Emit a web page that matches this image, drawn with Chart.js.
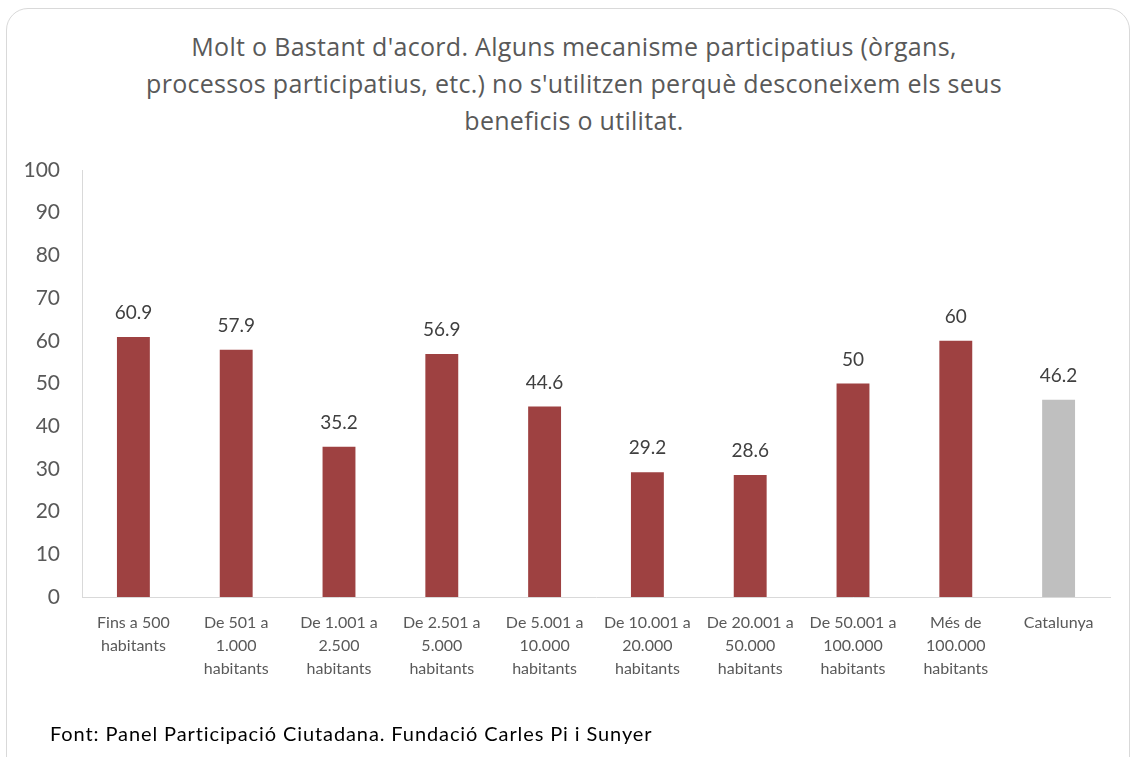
<!DOCTYPE html>
<html>
<head>
<meta charset="utf-8">
<script src="https://cdn.jsdelivr.net/npm/chart.js@4"></script>
<style>
  html, body { margin: 0; padding: 0; background: #fff; }
  body { width: 1132px; height: 757px; position: relative; overflow: hidden; font-family: Lato, sans-serif; }
  .frame { position: absolute; left: 6px; top: 8px; width: 1122px; height: 780px; border: 1px solid #d9d9d9; border-radius: 22px; }
  .title { position: absolute; left: 16px; top: 28px; width: 1116px; text-align: center; color: #595959; font-family: "Open Sans", sans-serif; font-size: 25px; letter-spacing: 0.3px; line-height: 37px; }
  .source { position: absolute; left: 50px; top: 721px; color: #000; font-size: 20px; letter-spacing: 0.9px; white-space: nowrap; }
  #chart { position: absolute; left: 0; top: 0; }
</style>
</head>
<body>
<div class="frame"></div>
<div class="title">Molt o Bastant d'acord. Alguns mecanisme participatius (òrgans,<br>processos participatius, etc.) no s'utilitzen perquè desconeixem els seus<br>beneficis o utilitat.</div>
<canvas id="chart" width="1132" height="757"></canvas>
<div class="source">Font: Panel Participació Ciutadana. Fundació Carles Pi i Sunyer</div>
<script>
const categories = [
  ['Fins a 500', 'habitants'],
  ['De 501 a', '1.000', 'habitants'],
  ['De 1.001 a', '2.500', 'habitants'],
  ['De 2.501 a', '5.000', 'habitants'],
  ['De 5.001 a', '10.000', 'habitants'],
  ['De 10.001 a', '20.000', 'habitants'],
  ['De 20.001 a', '50.000', 'habitants'],
  ['De 50.001 a', '100.000', 'habitants'],
  ['Més de', '100.000', 'habitants'],
  'Catalunya'
];
const values = [60.9, 57.9, 35.2, 56.9, 44.6, 29.2, 28.6, 50, 60, 46.2];
const barColors = ['#9e4141', '#9e4141', '#9e4141', '#9e4141', '#9e4141', '#9e4141', '#9e4141', '#9e4141', '#9e4141', '#bfbfbf'];

// draws the value above each bar
const valueLabels = {
  id: 'valueLabels',
  afterDatasetsDraw(chart) {
    const ctx = chart.ctx;
    const meta = chart.getDatasetMeta(0);
    ctx.save();
    ctx.font = '19px Lato';
    ctx.fillStyle = '#404040';
    ctx.textAlign = 'center';
    ctx.textBaseline = 'middle';
    meta.data.forEach((bar, i) => {
      ctx.fillText(String(values[i]), bar.x, bar.y - 24);
    });
    ctx.restore();
  }
};

new Chart(document.getElementById('chart'), {
  type: 'bar',
  data: {
    labels: categories,
    datasets: [{
      data: values,
      backgroundColor: barColors,
      barPercentage: 0.4,
      categoryPercentage: 0.8
    }]
  },
  options: {
    responsive: false,
    animation: false,
    layout: { padding: { top: 170, right: 22, bottom: 55, left: 0 } },
    plugins: { legend: { display: false }, tooltip: { enabled: false } },
    scales: {
      x: {
        grid: { display: false, drawTicks: false },
        border: { color: '#d9d9d9', width: 1 },
        ticks: { color: '#595959', font: { family: 'Lato', size: 16, lineHeight: 1.45 }, padding: 14, maxRotation: 0, autoSkip: false },
        afterFit(scale) { scale.height = 105; }
      },
      y: {
        min: 0,
        max: 100,
        grid: { display: false, drawTicks: false },
        border: { color: '#d9d9d9', width: 1 },
        ticks: { stepSize: 10, color: '#595959', font: { family: 'Lato', size: 21 }, padding: 22 },
        afterFit(scale) { scale.width = 82; }
      }
    }
  },
  plugins: [valueLabels]
});
</script>
</body>
</html>
